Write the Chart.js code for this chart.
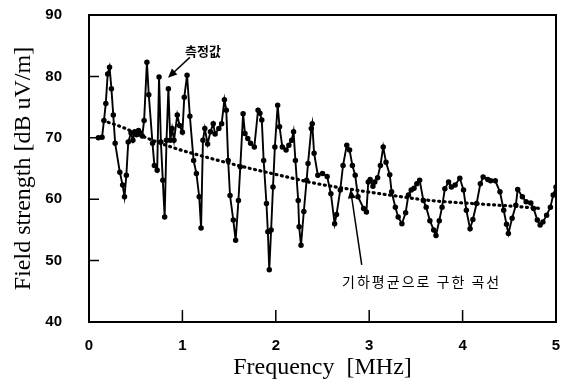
<!DOCTYPE html>
<html lang="ko">
<head>
<meta charset="UTF-8" />
<title>Field strength vs frequency</title>
<script src="https://cdn.jsdelivr.net/npm/chart.js"></script>
<style>
  html, body { margin: 0; padding: 0; background: #fff; }
  #fieldChart { display: block; }
</style>
</head>
<body>
<canvas id="fieldChart" width="565" height="383"></canvas>
<script>
// measured field strength (MHz, dB uV/m)
const freq = [0.10, 0.14, 0.16, 0.18, 0.20, 0.22, 0.24, 0.26, 0.28, 0.33, 0.36, 0.38, 0.40, 0.42, 0.45, 0.47, 0.49, 0.51, 0.53, 0.55,
  0.57, 0.59, 0.62, 0.64, 0.68, 0.70, 0.73, 0.75, 0.77, 0.79, 0.81, 0.83, 0.85, 0.87, 0.89, 0.91, 0.945, 0.97, 1.00, 1.02,
  1.05, 1.08, 1.12, 1.15, 1.18, 1.20, 1.22, 1.24, 1.27, 1.30, 1.33, 1.35, 1.39, 1.42, 1.45, 1.47, 1.49, 1.51, 1.545, 1.57,
  1.60, 1.62, 1.65, 1.67, 1.70, 1.73, 1.77, 1.81, 1.83, 1.85, 1.87, 1.90, 1.915, 1.93, 1.95, 1.97, 1.99, 2.02, 2.04, 2.07,
  2.11, 2.14, 2.17, 2.19, 2.21, 2.24, 2.25, 2.27, 2.30, 2.33, 2.345, 2.38, 2.39, 2.41, 2.45, 2.50, 2.55, 2.59, 2.63, 2.65,
  2.69, 2.72, 2.76, 2.79, 2.82, 2.85, 2.88, 2.94, 2.97, 2.99, 3.01, 3.04, 3.06, 3.09, 3.12, 3.15, 3.18, 3.22, 3.24, 3.28,
  3.31, 3.35, 3.39, 3.42, 3.45, 3.48, 3.51, 3.54, 3.58, 3.61, 3.65, 3.69, 3.715, 3.75, 3.78, 3.81, 3.85, 3.88, 3.92, 3.97,
  4.01, 4.04, 4.08, 4.11, 4.15, 4.19, 4.22, 4.27, 4.30, 4.35, 4.40, 4.44, 4.47, 4.49, 4.53, 4.57, 4.59, 4.64, 4.68, 4.73,
  4.76, 4.80, 4.83, 4.86, 4.90, 4.94, 4.97, 5.00];
const level = [70.0, 70.1, 72.8, 75.6, 80.4, 81.5, 78.0, 73.7, 69.1, 64.4, 62.3, 60.4, 63.9, 69.3, 70.8, 69.6, 71.0, 70.5, 71.2, 70.8,
  70.3, 72.8, 82.3, 77.0, 69.1, 65.5, 64.7, 79.9, 69.3, 63.1, 57.1, 69.6, 78.0, 69.6, 71.5, 69.6, 73.7, 72.0, 70.9, 76.6,
  80.2, 73.5, 66.3, 64.2, 60.4, 55.3, 69.6, 71.5, 69.0, 71.0, 72.3, 70.6, 71.5, 72.3, 76.2, 74.5, 66.3, 60.6, 56.6, 53.3,
  59.8, 65.3, 73.9, 70.7, 69.9, 69.1, 68.5, 74.5, 74.0, 72.9, 66.3, 59.3, 54.7, 48.5, 55.0, 62.0, 68.5, 75.3, 71.8, 68.5,
  68.0, 68.8, 69.6, 71.0, 66.3, 59.8, 55.5, 52.5, 58.0, 63.1, 65.8, 71.5, 72.3, 67.5, 63.9, 64.2, 63.7, 60.9, 56.0, 57.5,
  61.5, 65.5, 68.8, 68.0, 65.5, 63.9, 60.4, 58.5, 57.9, 62.8, 63.2, 62.1, 62.8, 63.5, 65.5, 68.5, 66.0, 64.0, 61.2, 58.7,
  57.1, 56.0, 57.8, 60.7, 61.5, 61.8, 62.5, 63.1, 59.8, 58.7, 56.5, 55.0, 54.1, 56.5, 58.7, 61.7, 62.8, 62.0, 62.3, 63.4,
  61.5, 58.2, 55.2, 56.7, 59.3, 62.5, 63.6, 63.2, 63.0, 63.0, 61.2, 58.2, 55.9, 54.4, 56.9, 59.0, 61.6, 60.4, 59.6, 59.4,
  58.5, 56.6, 55.8, 56.3, 57.4, 58.7, 60.7, 62.0];

// curve from the geometric mean
const trendFreq = [0.15, 0.36, 0.55, 0.88, 1.17, 1.62, 2.04, 2.45, 2.85, 3.25, 3.65, 4.10, 4.50, 4.83];
const trendLevel = [72.8, 71.7, 70.4, 68.5, 67.2, 65.4, 63.9, 62.5, 61.5, 60.6, 59.8, 59.3, 58.9, 58.5];

const xTicks = [0, 1, 2, 3, 4, 5];
const yTicks = [40, 50, 60, 70, 80, 90];

const toPoints = (xs, ys) => xs.map((v, i) => ({ x: v, y: ys[i] }));

// fixed axis box; drop the label overhang padding so the plot fills the frame
function fixBox(size) {
  return s => {
    if (s.isHorizontal()) s.height = size; else s.width = size;
    s.paddingTop = s.paddingBottom = s.paddingLeft = s.paddingRight = 0;
  };
}

// frame around the plot and short inward tick marks
const framePlugin = {
  id: 'frame',
  afterDraw(chart) {
    const { ctx, chartArea: a, scales: { x, y } } = chart;
    ctx.save();
    ctx.strokeStyle = '#000';
    ctx.lineWidth = 2;
    ctx.strokeRect(a.left, a.top, a.right - a.left, a.bottom - a.top);
    ctx.lineWidth = 1.5;
    ctx.beginPath();
    yTicks.forEach(v => {
      const py = y.getPixelForValue(v);
      ctx.moveTo(a.left, py);
      ctx.lineTo(a.left + 10, py);
    });
    xTicks.forEach(v => {
      const px = x.getPixelForValue(v);
      ctx.moveTo(px, a.bottom);
      ctx.lineTo(px, a.bottom - 12);
    });
    ctx.stroke();
    ctx.restore();
  }
};

function arrow(ctx, x0, y0, x1, y1) {
  const ang = Math.atan2(y1 - y0, x1 - x0);
  const len = 9, half = 4;
  ctx.beginPath();
  ctx.moveTo(x0, y0);
  ctx.lineTo(x1 - Math.cos(ang) * len * 0.8, y1 - Math.sin(ang) * len * 0.8);
  ctx.stroke();
  ctx.beginPath();
  ctx.moveTo(x1, y1);
  ctx.lineTo(x1 - Math.cos(ang) * len + Math.sin(ang) * half, y1 - Math.sin(ang) * len - Math.cos(ang) * half);
  ctx.lineTo(x1 - Math.cos(ang) * len - Math.sin(ang) * half, y1 - Math.sin(ang) * len + Math.cos(ang) * half);
  ctx.closePath();
  ctx.fill();
}

// callouts, anchored in data units
const notes = [
  { text: '측정값', at: [1.22, 84.2], align: 'center', from: [1.08, 83.1], to: [0.846, 79.8], font: 'bold 13px "Noto Sans CJK KR"', spacing: '0px' },
  { text: '기하평균으로 구한 곡선', at: [2.71, 46.5], align: 'left', from: [2.92, 49.3], to: [2.80, 61.6], font: '14px "Noto Sans CJK KR"', spacing: '2px' }
];

const notePlugin = {
  id: 'notes',
  afterDraw(chart) {
    const { ctx, scales: { x, y } } = chart;
    ctx.save();
    ctx.fillStyle = '#000';
    ctx.strokeStyle = '#000';
    ctx.lineWidth = 1.5;
    notes.forEach(n => {
      arrow(ctx, x.getPixelForValue(n.from[0]), y.getPixelForValue(n.from[1]),
        x.getPixelForValue(n.to[0]), y.getPixelForValue(n.to[1]));
      ctx.font = n.font;
      ctx.letterSpacing = n.spacing;
      ctx.textAlign = n.align;
      ctx.textBaseline = 'middle';
      ctx.fillText(n.text, x.getPixelForValue(n.at[0]), y.getPixelForValue(n.at[1]));
    });
    ctx.restore();
  }
};

const tickFont = { family: '"Liberation Sans", Arial, sans-serif', size: 15, weight: 'bold' };
const titleFont = { family: '"Liberation Serif", "Times New Roman", serif', size: 24 };

new Chart(document.getElementById('fieldChart'), {
  type: 'line',
  data: {
    datasets: [
      {
        label: '측정값',
        data: toPoints(freq, level),
        borderColor: '#000',
        backgroundColor: '#000',
        borderWidth: 1.9,
        pointRadius: 1.8,
        pointHoverRadius: 1.8,
        tension: 0
      },
      {
        label: '기하평균으로 구한 곡선',
        data: toPoints(trendFreq, trendLevel),
        borderColor: '#000',
        borderWidth: 3.2,
        borderDash: [1, 4.5],
        borderCapStyle: 'round',
        pointRadius: 0,
        cubicInterpolationMode: 'monotone'
      }
    ]
  },
  options: {
    responsive: false,
    animation: false,
    devicePixelRatio: 1,
    layout: { padding: { left: 0, top: 15, right: 9, bottom: 0 } },
    plugins: { legend: { display: false }, tooltip: { enabled: false } },
    scales: {
      x: {
        type: 'linear',
        min: 0,
        max: 5,
        afterFit: fixBox(61),
        afterBuildTicks: s => { s.ticks = xTicks.map(v => ({ value: v })); },
        grid: { display: false, drawTicks: false },
        border: { display: false },
        ticks: { font: tickFont, color: '#000', padding: 15 },
        title: { display: true, text: 'Frequency  [MHz]', font: titleFont, color: '#000', padding: { top: 0, bottom: 1 } }
      },
      y: {
        min: 40,
        max: 90,
        afterFit: fixBox(89),
        afterBuildTicks: s => { s.ticks = yTicks.map(v => ({ value: v })); },
        grid: { display: false, drawTicks: false },
        border: { display: false },
        ticks: { font: tickFont, color: '#000', padding: 27 },
        title: { display: true, text: 'Field strength [dB uV/m]', font: titleFont, color: '#000', padding: { top: 9, bottom: 0 } }
      }
    }
  },
  plugins: [framePlugin, notePlugin]
});
</script>
</body>
</html>
